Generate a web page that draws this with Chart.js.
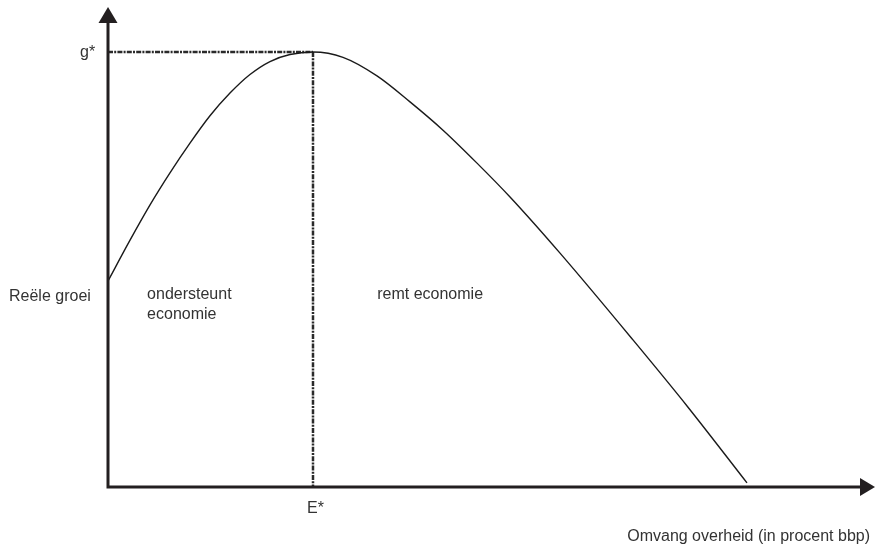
<!DOCTYPE html>
<html lang="nl">
  <head>
    <meta charset="UTF-8" />
    <title>Omvang overheid en reële groei</title>
    <script src="https://cdn.jsdelivr.net/npm/chart.js"></script>
    <style>
      html, body {
        margin: 0;
        padding: 0;
        background: #fff;
      }
      #wrap {
        width: 882px;
        height: 546px;
      }
    </style>
  </head>
  <body>
    <div id="wrap"><canvas id="plot" width="882" height="546"></canvas></div>
    <script>
      // curve (x: size of government, y: growth), 0..100 units
      const curveX = [0, 2.93, 5.59, 8.24, 10.9, 13.56, 16.22, 18.88, 21.54, 24.2, 27.26,
                      31.25, 35.77, 40.16, 44.55, 49.07, 53.46, 60.11, 69.81, 77.13, 84.97];
      const curveY = [44.4, 53.2, 60.8, 67.7, 74.1, 80.0, 84.9, 88.9, 91.7, 93.2, 93.75,
                      92.6, 88.6, 83.0, 76.9, 69.8, 62.5, 50.4, 31.7, 17.2, 0.9];
      const peakX = 27.26;
      const peakY = 93.75;
      const xTitle = "Omvang overheid (in procent bbp)";
      const yTitle = "Reële groei";
      const peakXLabel = "E*";
      const peakYLabel = "g*";
      const areaLabels = [
        { x: 5.2, y: 40.5, lines: ["ondersteunt", "economie"] },
        { x: 35.8, y: 40.5, lines: ["remt economie"] },
      ];

      const FONT = '16px "Liberation Sans", Arial, sans-serif';
      const INK = "#231f20";
      const TEXT = "#333";

      const diagram = {
        id: "diagram",
        beforeDatasetsDraw(chart) {
          const { ctx, scales } = chart;
          const xs = scales.x, ys = scales.y;
          const px = xs.getPixelForValue(peakX);
          const py = ys.getPixelForValue(peakY);
          const x0 = xs.getPixelForValue(0);
          const y0 = ys.getPixelForValue(0);
          ctx.save();
          // dashed guide lines to the peak
          ctx.strokeStyle = "#2a2a2a";
          ctx.lineWidth = 2.5;
          ctx.setLineDash([5, 1.2, 2, 1.2]);
          ctx.beginPath();
          ctx.moveTo(x0, py);
          ctx.lineTo(px, py);
          ctx.moveTo(px, py);
          ctx.lineTo(px, y0);
          ctx.stroke();
          ctx.restore();
        },
        afterDatasetsDraw(chart) {
          const { ctx, scales, chartArea } = chart;
          const xs = scales.x, ys = scales.y;
          const x0 = xs.getPixelForValue(0);
          const y0 = ys.getPixelForValue(0);
          ctx.save();
          // axes
          ctx.strokeStyle = INK;
          ctx.fillStyle = INK;
          ctx.lineWidth = 3;
          ctx.beginPath();
          ctx.moveTo(x0, y0 + 1.5);
          ctx.lineTo(x0, chartArea.top);
          ctx.moveTo(x0 - 1.5, y0);
          ctx.lineTo(chartArea.right, y0);
          ctx.stroke();
          // arrow heads
          ctx.beginPath();
          ctx.moveTo(x0, chartArea.top - 16);
          ctx.lineTo(x0 + 9.5, chartArea.top);
          ctx.lineTo(x0 - 9.5, chartArea.top);
          ctx.closePath();
          ctx.fill();
          ctx.beginPath();
          ctx.moveTo(chartArea.right + 15, y0);
          ctx.lineTo(chartArea.right, y0 - 9);
          ctx.lineTo(chartArea.right, y0 + 9);
          ctx.closePath();
          ctx.fill();

          // texts
          ctx.fillStyle = TEXT;
          ctx.font = FONT;
          ctx.textBaseline = "alphabetic";
          ctx.textAlign = "left";
          ctx.fillText(peakYLabel, 80, ys.getPixelForValue(peakY) + 5);
          ctx.fillText(yTitle, 9, 301);
          ctx.fillText(peakXLabel, xs.getPixelForValue(peakX) - 6, y0 + 26);
          ctx.textAlign = "right";
          ctx.fillText(xTitle, 870, 541);
          ctx.textAlign = "left";
          areaLabels.forEach((a) => {
            a.lines.forEach((t, i) => {
              ctx.fillText(t, xs.getPixelForValue(a.x), ys.getPixelForValue(a.y) + i * 20);
            });
          });
          ctx.restore();
        },
      };

      new Chart(document.getElementById("plot"), {
        type: "line",
        data: {
          datasets: [
            {
              data: curveX.map((x, i) => ({ x, y: curveY[i] })),
              borderColor: "#1a1a1a",
              borderWidth: 1.4,
              pointRadius: 0,
              fill: false,
              cubicInterpolationMode: "monotone",
            },
          ],
        },
        options: {
          responsive: false,
          animation: false,
          layout: { padding: { left: 108, right: 22, top: 23, bottom: 59 } },
          plugins: {
            legend: { display: false },
            tooltip: { enabled: false },
          },
          scales: {
            x: { type: "linear", min: 0, max: 100, display: false },
            y: { type: "linear", min: 0, max: 100, display: false },
          },
        },
        plugins: [diagram],
      });
    </script>
  </body>
</html>
